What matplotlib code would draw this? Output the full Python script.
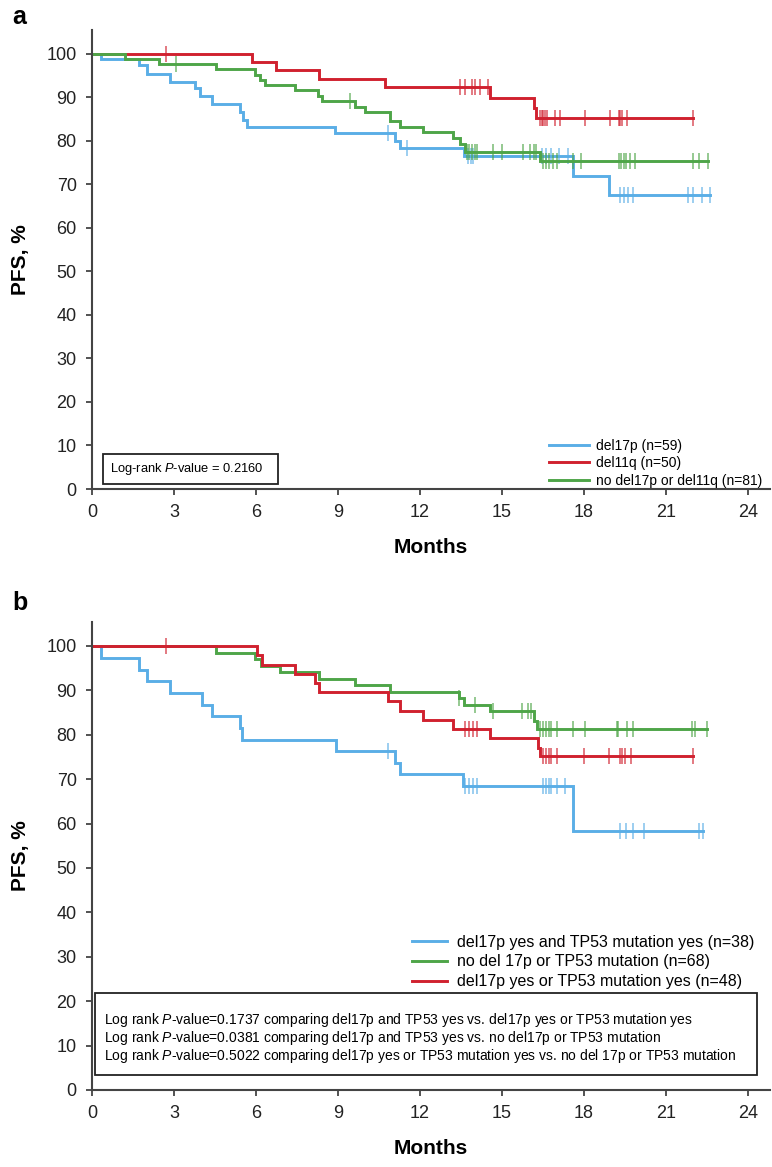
import numpy as np
import matplotlib
matplotlib.use("Agg")
import matplotlib.pyplot as plt
from matplotlib.patches import Rectangle

plt.rcParams['font.family'] = ['Liberation Sans', 'DejaVu Sans']
plt.rcParams['mathtext.fontset'] = 'custom'
plt.rcParams['mathtext.rm'] = 'Liberation Sans'
plt.rcParams['mathtext.it'] = 'Liberation Sans:italic'

BLUE = '#5aaee6'
RED = '#d0212f'
GREEN = '#4ea548'

# ---- panel a data (months, PFS %)
a_labels = ['del17p (n=59)', 'del11q (n=50)', 'no del17p or del11q (n=81)']

a_blue_t = [0, 0.32, 1.73, 2.02, 2.85, 3.77, 3.95, 4.38, 5.42, 5.51, 5.66, 8.89, 11.09, 11.27, 13.59, 17.61, 18.9]
a_blue_s = [100, 98.8, 97.4, 95.4, 93.6, 92.1, 90.4, 88.4, 86.7, 84.8, 83.3, 81.8, 79.9, 78.3, 76.6, 72.0, 67.6]
a_blue_end = 22.6
a_blue_cens = [10.84, 11.51, 13.75, 13.85, 13.95, 16.45, 16.6, 16.8, 17.1, 17.4, 19.3, 19.45, 19.6, 19.8,
               21.8, 22.0, 22.3, 22.6]

a_red_t = [0, 5.84, 6.73, 8.32, 10.72, 14.54, 16.15, 16.25]
a_red_s = [100, 98.2, 96.2, 94.2, 92.3, 89.8, 87.5, 85.2]
a_red_end = 22.0
a_red_cens = [2.71, 13.46, 13.64, 13.89, 14.01, 14.19, 14.5, 16.39, 16.45, 16.51, 16.57, 16.63, 16.94,
              17.12, 18.04, 18.95, 19.26, 19.32, 19.38, 19.56, 22.0]

a_green_t = [0, 1.21, 2.46, 4.54, 5.96, 6.15, 6.33, 7.43, 8.28, 8.40, 9.62, 9.98, 10.90, 11.27, 12.12,
             13.22, 13.46, 13.64, 16.39]
a_green_s = [100, 98.8, 97.6, 96.5, 95.2, 94.0, 92.9, 91.7, 90.4, 89.2, 87.9, 86.6, 84.5, 83.3, 82.1,
             80.6, 79.4, 77.5, 75.3]
a_green_end = 22.55
a_green_cens = [0, 3.07, 9.44, 13.7, 13.8, 13.9, 14.0, 14.1, 14.68, 14.99, 15.78, 16.03, 16.15, 16.25,
                16.5, 16.6, 16.7, 16.85, 17.0, 17.6, 17.9, 19.26, 19.35, 19.45, 19.55, 19.68, 19.87,
                22.0, 22.2, 22.55]

# ---- panel b data
b_labels = ['del17p yes and TP53 mutation yes (n=38)', 'no del 17p or TP53 mutation (n=68)',
            'del17p yes or TP53 mutation yes (n=48)']

b_blue_t = [0, 0.32, 1.73, 2.02, 2.85, 4.01, 4.38, 5.42, 5.48, 8.93, 11.07, 11.27, 13.57, 17.6]
b_blue_s = [100, 97.4, 94.7, 92.1, 89.5, 86.8, 84.2, 81.6, 78.9, 76.3, 73.7, 71.1, 68.4, 58.3]
b_blue_end = 22.36
b_blue_cens = [10.84, 13.65, 13.8, 13.95, 14.1, 16.5, 16.6, 16.7, 16.8, 17.0, 17.3, 19.3, 19.55,
               19.8, 20.2, 22.2, 22.36]

b_green_t = [0, 4.54, 5.98, 6.17, 6.87, 8.32, 9.62, 10.9, 13.44, 13.59, 14.56, 16.15, 16.27]
b_green_s = [100, 98.5, 97.1, 95.6, 94.1, 92.6, 91.2, 89.7, 88.2, 86.8, 85.3, 83.0, 81.2]
b_green_end = 22.49
b_green_cens = [13.44, 14.0, 14.68, 15.72, 15.95, 16.05, 16.4, 16.5, 16.6, 16.7, 16.8, 17.0, 17.59,
                18.05, 19.2, 19.25, 19.56, 19.8, 21.95, 22.07, 22.49]

b_red_t = [0, 6.03, 6.21, 7.43, 8.16, 8.32, 10.84, 11.27, 12.12, 13.20, 14.56, 16.3, 16.4]
b_red_s = [100, 97.9, 95.8, 93.75, 91.7, 89.6, 87.5, 85.4, 83.3, 81.25, 79.2, 77.1, 75.2]
b_red_end = 22.0
b_red_cens = [0, 2.71, 13.65, 13.8, 13.95, 14.1, 16.5, 16.6, 16.7, 16.8, 17.0, 18.0, 18.9, 19.3,
              19.4, 19.5, 19.7, 22.0]

xticks = [0, 3, 6, 9, 12, 15, 18, 21, 24]
yticks = [0, 10, 20, 30, 40, 50, 60, 70, 80, 90, 100]

a_note = r'Log-rank $\it{P}$-value = 0.2160'
b_notes = [r'Log rank $\it{P}$-value=0.1737 comparing del17p and TP53 yes vs. del17p yes or TP53 mutation yes',
           r'Log rank $\it{P}$-value=0.0381 comparing del17p and TP53 yes vs. no del17p or TP53 mutation',
           r'Log rank $\it{P}$-value=0.5022 comparing del17p yes or TP53 mutation yes vs. no del 17p or TP53 mutation']


def km(ax, t, s, end, cens, color, label):
    tt = list(t) + [end]
    ss = list(s) + [s[-1]]
    ax.step(tt, ss, where='post', color=color, lw=2.1, label=label, solid_joinstyle='miter')
    c = np.array(cens)
    idx = np.searchsorted(t, c, side='right') - 1
    ax.plot(c, np.array(s)[idx], ls='none', marker='|', ms=11, mew=1.3, color=color, alpha=0.65)


def style(ax, top):
    ax.set_xlim(0, 24.8)
    ax.set_ylim(0, top)
    for sp in ['top', 'right']:
        ax.spines[sp].set_visible(False)
    for sp in ['left', 'bottom']:
        ax.spines[sp].set_color('#444444')
        ax.spines[sp].set_linewidth(1.5)
    ax.set_xticks(xticks)
    ax.set_yticks(yticks)
    ax.tick_params(direction='out', length=4, width=1.3, color='#444444', labelsize=13, pad=7,
                   labelcolor='#222222')
    ax.set_xlabel('Months', fontsize=15, fontweight='bold', labelpad=12)
    ax.set_ylabel('PFS, %', fontsize=15, fontweight='bold', labelpad=12)


fig = plt.figure(figsize=(7.72, 11.67), dpi=100)
W, H = 772, 1167
ax_a = fig.add_axes([92 / W, 1 - 489 / H, 678 / W, 459 / H])
ax_b = fig.add_axes([92 / W, 1 - 1090 / H, 678 / W, 468 / H])

# panel a
km(ax_a, a_blue_t, a_blue_s, a_blue_end, a_blue_cens, BLUE, a_labels[0])
km(ax_a, a_red_t, a_red_s, a_red_end, a_red_cens, RED, a_labels[1])
km(ax_a, a_green_t, a_green_s, a_green_end, a_green_cens, GREEN, a_labels[2])
style(ax_a, 105.5)
ax_a.legend(loc='lower left', bbox_to_anchor=(0.672, 0.0), frameon=False, fontsize=10,
            handlelength=2.9, handletextpad=0.45, labelspacing=0.25, borderpad=0.1, borderaxespad=0)
ax_a.add_patch(Rectangle((0.016, 0.011), 0.258, 0.066, transform=ax_a.transAxes, fill=False,
                         edgecolor='#222222', lw=1.3))
ax_a.text(0.027, 0.044, a_note, transform=ax_a.transAxes, fontsize=9.3, va='center', ha='left')

# panel b
km(ax_b, b_blue_t, b_blue_s, b_blue_end, b_blue_cens, BLUE, b_labels[0])
km(ax_b, b_green_t, b_green_s, b_green_end, b_green_cens, GREEN, b_labels[1])
km(ax_b, b_red_t, b_red_s, b_red_end, b_red_cens, RED, b_labels[2])
style(ax_b, 105.4)
ax_b.legend(loc='lower left', bbox_to_anchor=(0.47, 0.212), frameon=False, fontsize=11.5,
            handlelength=2.2, handletextpad=0.6, labelspacing=0.3, borderpad=0.1, borderaxespad=0)
ax_b.add_patch(Rectangle((0.005, 0.032), 0.976, 0.175, transform=ax_b.transAxes, fill=False,
                         edgecolor='#222222', lw=1.3))
for i, line in enumerate(b_notes):
    ax_b.text(0.017, 0.15 - i * 0.039, line, transform=ax_b.transAxes, fontsize=10, va='center', ha='left')

fig.text(12 / W, 1 - 17 / H, 'a', fontsize=18, fontweight='bold', va='center', ha='left')
fig.text(12 / W, 1 - 603 / H, 'b', fontsize=18, fontweight='bold', va='center', ha='left')

fig.savefig('out.png', dpi=100)
